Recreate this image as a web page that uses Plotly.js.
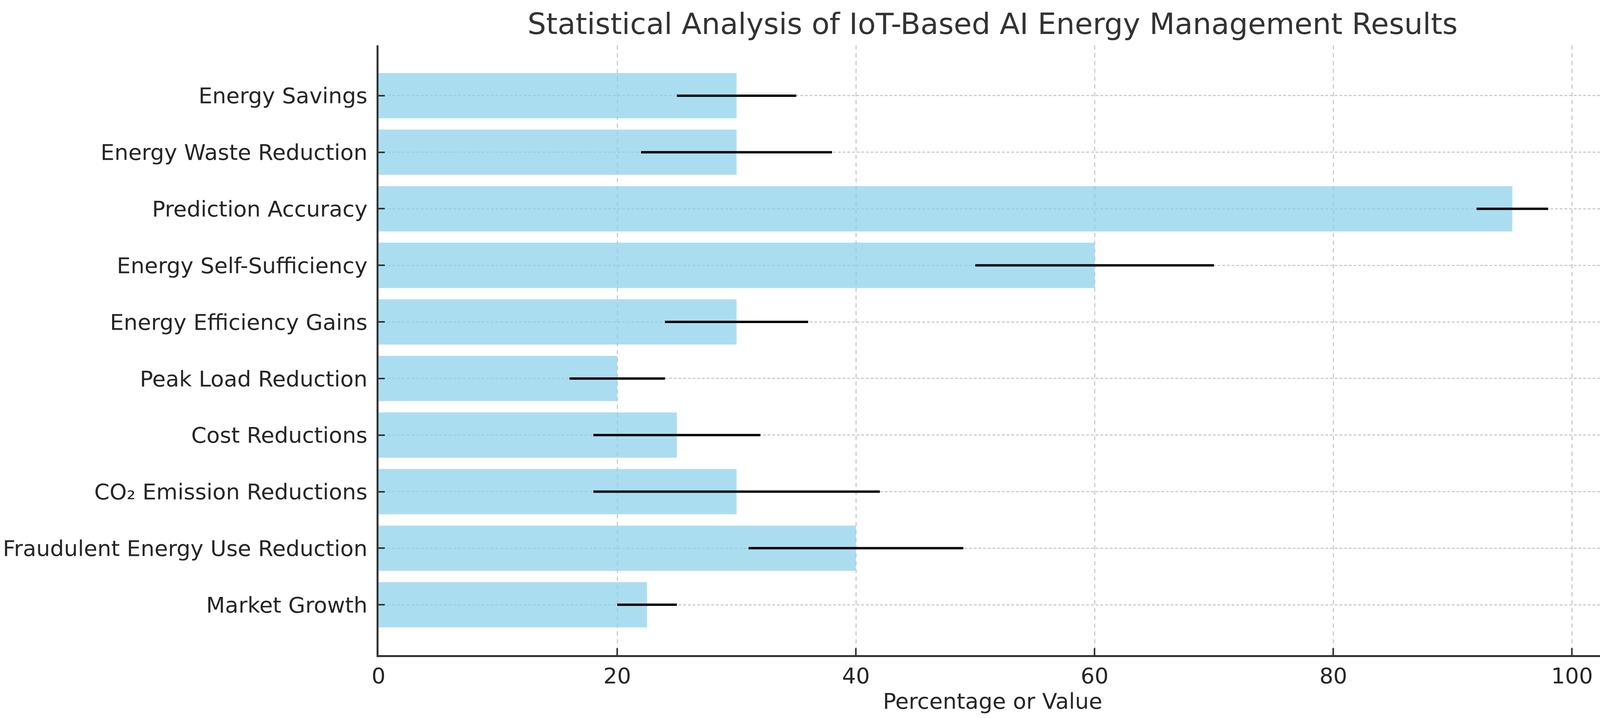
<!DOCTYPE html>
<html>
<head>
<meta charset="utf-8">
<script src="https://cdn.plot.ly/plotly-3.0.1.min.js"></script>
<style>html,body{margin:0;padding:0;background:#fff;}#chart{width:4129px;height:1838px;}</style>
</head>
<body>
<div id="chart"></div>
<script>
const categories = [
  "Energy Savings",
  "Energy Waste Reduction",
  "Prediction Accuracy",
  "Energy Self-Sufficiency",
  "Energy Efficiency Gains",
  "Peak Load Reduction",
  "Cost Reductions",
  "CO₂ Emission Reductions",
  "Fraudulent Energy Use Reduction",
  "Market Growth"
];
const values = [30, 30, 95, 60, 30, 20, 25, 30, 40, 22.5];
const errors = [5, 8, 3, 10, 6, 4, 7, 12, 9, 2.5];
const xTicks = [0, 20, 40, 60, 80, 100];

const FONT = "DejaVu Sans, Verdana, sans-serif";

const trace = {
  type: "bar",
  orientation: "h",
  y: categories,
  x: values,
  width: 0.8,
  marker: { color: "rgb(135,206,235)", opacity: 0.7, line: { width: 0 } },
  error_x: { type: "data", array: errors, visible: true, color: "#000000", thickness: 6, width: 0 },
  hoverinfo: "skip"
};

const layout = {
  width: 4129,
  height: 1838,
  paper_bgcolor: "#ffffff",
  plot_bgcolor: "#ffffff",
  margin: { l: 969, r: 16, t: 116, b: 161, autoexpand: false },
  showlegend: false,
  bargap: 0.2,
  font: { family: FONT, color: "#262626", size: 56 },
  title: {
    text: "Statistical Analysis of IoT-Based AI Energy Management Results",
    font: { family: FONT, size: 75, color: "#333333" },
    xref: "paper", x: 0.5, xanchor: "center",
    yref: "container", y: 1 - 61 / 1838, yanchor: "middle"
  },
  xaxis: {
    range: [0, 102.9],
    tickmode: "array",
    tickvals: xTicks,
    ticktext: xTicks.map(String),
    ticks: "inside",
    ticklen: 18,
    tickwidth: 4,
    tickcolor: "#333333",
    tickfont: { family: FONT, size: 56, color: "#262626" },
    showline: true,
    linecolor: "#333333",
    linewidth: 5,
    zeroline: false,
    showgrid: true,
    gridcolor: "#cccccc",
    gridwidth: 3,
    griddash: "11px,9px",
    title: { text: "Percentage or Value", font: { family: FONT, size: 56, color: "#262626" }, standoff: 2 },
    automargin: false,
    fixedrange: true
  },
  yaxis: {
    type: "category",
    categoryorder: "array",
    categoryarray: categories,
    range: [9.89, -0.89],
    ticks: "inside",
    ticklen: 16,
    tickwidth: 4,
    tickcolor: "#333333",
    ticklabelstandoff: 12,
    tickfont: { family: FONT, size: 56, color: "#262626" },
    showline: true,
    linecolor: "#333333",
    linewidth: 5,
    zeroline: false,
    showgrid: true,
    gridcolor: "#cccccc",
    gridwidth: 3,
    griddash: "7px,5px",
    automargin: false,
    fixedrange: true
  }
};

Plotly.newPlot("chart", [trace], layout, { staticPlot: true, displayModeBar: false });
</script>
</body>
</html>
